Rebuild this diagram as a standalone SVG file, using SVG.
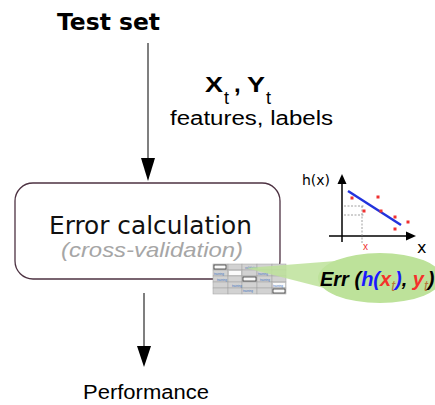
<svg xmlns="http://www.w3.org/2000/svg" width="435" height="405" viewBox="0 0 435 405">
  <defs>
    <style>
      .sans { font-family: "Liberation Sans", Arial, sans-serif; }
      .ubu { font-family: "DejaVu Sans", "Liberation Sans", sans-serif; }
      .flow { stroke: #555; stroke-width: 1.5; fill: none; }
      .head { fill: #000; }
      .axis { stroke: #000; stroke-width: 1.5; fill: none; }
      .dash { stroke: #888; stroke-width: 0.8; stroke-dasharray: 2 1.5; fill: none; }
      .pt { fill: #f03030; }
      .cell { fill: #d2d2d2; stroke: #a0a0a0; stroke-width: 0.5; }
      .wcell { fill: #fafafa; stroke: #222; stroke-width: 0.7; }
      .tiny { font-family: "Liberation Sans", Arial, sans-serif; font-size: 3px; fill: #3a6fc0; }
    </style>
  </defs>

  <!-- connectors -->
  <g id="connectors">
    <line class="flow" x1="148" y1="43" x2="148" y2="160"/>
    <polygon class="head" points="141,158 155,158 148,181"/>
    <line class="flow" x1="144" y1="293" x2="144" y2="348"/>
    <polygon class="head" points="137,346 151,346 144,367"/>
  </g>

  <!-- source label -->
  <g id="test-set">
    <text class="ubu" x="57" y="30" font-size="23" font-weight="bold" textLength="103" lengthAdjust="spacingAndGlyphs">Test set</text>
  </g>

  <!-- input annotation -->
  <g id="inputs" class="sans">
    <text x="205" y="92" font-size="22" font-weight="bold" textLength="18" lengthAdjust="spacingAndGlyphs">X</text>
    <text x="224" y="104" font-size="18">t</text>
    <text x="234" y="92" font-size="24" font-weight="bold">,</text>
    <text x="247" y="92" font-size="22" font-weight="bold" textLength="18" lengthAdjust="spacingAndGlyphs">Y</text>
    <text x="266" y="104" font-size="18">t</text>
    <text x="170" y="125" font-size="20" textLength="163" lengthAdjust="spacingAndGlyphs">features, labels</text>
  </g>

  <!-- main process node -->
  <g id="error-calculation">
    <rect x="15" y="183" width="265" height="96" rx="18" ry="18" fill="#fff" stroke="#4d3242" stroke-width="1.3"/>
    <text class="ubu" x="49" y="234" font-size="24" fill="#111" textLength="203" lengthAdjust="spacingAndGlyphs">Error calculation</text>
    <text class="sans" x="61" y="257" font-size="21" font-style="italic" fill="#a6a6a6" textLength="182" lengthAdjust="spacingAndGlyphs">(cross-validation)</text>
  </g>

  <!-- cross-validation table thumbnail -->
  <g id="cv-table">
    <g>
      <rect class="cell" x="213" y="264" width="15" height="6"/>
      <rect class="cell" x="228" y="264" width="14" height="6"/>
      <rect class="cell" x="242" y="264" width="15" height="6"/>
      <rect class="cell" x="257" y="264" width="15" height="6"/>
      <rect class="cell" x="272" y="264" width="14" height="6"/>
      <rect class="cell" x="213" y="270" width="15" height="6"/>
      <rect class="cell" x="228" y="270" width="14" height="6"/>
      <rect class="cell" x="242" y="270" width="15" height="6"/>
      <rect class="cell" x="257" y="270" width="15" height="6"/>
      <rect class="cell" x="272" y="270" width="14" height="6"/>
      <rect class="cell" x="213" y="276" width="15" height="6"/>
      <rect class="cell" x="228" y="276" width="14" height="6"/>
      <rect class="cell" x="242" y="276" width="15" height="6"/>
      <rect class="cell" x="257" y="276" width="15" height="6"/>
      <rect class="cell" x="272" y="276" width="14" height="6"/>
      <rect class="cell" x="213" y="282" width="15" height="6"/>
      <rect class="cell" x="228" y="282" width="14" height="6"/>
      <rect class="cell" x="242" y="282" width="15" height="6"/>
      <rect class="cell" x="257" y="282" width="15" height="6"/>
      <rect class="cell" x="272" y="282" width="14" height="6"/>
      <rect class="cell" x="213" y="288" width="15" height="6"/>
      <rect class="cell" x="228" y="288" width="14" height="6"/>
      <rect class="cell" x="242" y="288" width="15" height="6"/>
      <rect class="cell" x="257" y="288" width="15" height="6"/>
      <rect class="cell" x="272" y="288" width="14" height="6"/>
    </g>
    <rect class="wcell" x="214" y="265" width="12" height="4"/>
    <rect x="229" y="271" width="12" height="4" fill="#fafafa"/>
    <rect class="wcell" x="243" y="277" width="13" height="4"/>
    <rect x="273" y="283" width="12" height="4" fill="#fafafa"/>
    <rect class="wcell" x="273" y="289" width="12" height="4"/>
    <text class="tiny" x="245" y="268.5">validation</text>
    <text class="tiny" x="214" y="274.5">training</text>
    <text class="tiny" x="258" y="274.5">training</text>
    <text class="tiny" x="217" y="280.5">training</text>
    <text class="tiny" x="260" y="280.5">training</text>
    <text class="tiny" x="232" y="286.5">training</text>
    <text class="tiny" x="243" y="291.5">training</text>
    <text class="tiny" x="273" y="286.5">training</text>
  </g>

  <!-- error formula bubble -->
  <g id="error-bubble">
    <path d="M246 268 L336 261 L336 291 Z" fill="#bde29a" fill-opacity="0.85"/>
    <ellipse cx="380" cy="278" rx="62" ry="25" fill="#bde29a"/>
    <text class="sans" y="286" font-size="20" font-weight="bold" font-style="italic">
      <tspan x="320" fill="#000">Err (</tspan><tspan fill="#1a1aff">h(</tspan><tspan fill="#f5302a">x</tspan><tspan font-size="14" dy="5" fill="#b5773a" font-weight="normal">t</tspan><tspan dy="-5" fill="#1a1aff">)</tspan><tspan fill="#000">, </tspan><tspan fill="#f5302a">y</tspan><tspan font-size="14" dy="5" fill="#b5773a" font-weight="normal">t</tspan><tspan dy="-5" fill="#000">)</tspan>
    </text>
  </g>

  <!-- regression inset -->
  <g id="regression-plot">
    <text class="ubu" x="302" y="185" font-size="14">h(x)</text>
    <line class="axis" x1="342" y1="182" x2="342" y2="242"/>
    <polygon points="337.5,184 346.5,184 342,174" fill="#000"/>
    <line class="axis" x1="329" y1="236" x2="408" y2="236"/>
    <polygon points="406,231.5 406,240.5 416,236" fill="#000"/>
    <line class="dash" x1="344" y1="206" x2="364" y2="206"/>
    <line class="dash" x1="344" y1="215" x2="364" y2="215"/>
    <line class="dash" x1="362" y1="206" x2="362" y2="244"/>
    <line x1="348" y1="191" x2="401" y2="225" stroke="#2233dd" stroke-width="2.5"/>
    <rect class="pt" x="350.5" y="196.5" width="3" height="3"/>
    <rect class="pt" x="376.5" y="195.5" width="3" height="3"/>
    <rect class="pt" x="362.5" y="209.5" width="3" height="3"/>
    <rect class="pt" x="379.5" y="209.5" width="3" height="3"/>
    <rect class="pt" x="393.5" y="215.5" width="3" height="3"/>
    <rect class="pt" x="406.5" y="220.5" width="3" height="3"/>
    <rect class="pt" x="393.5" y="227.5" width="3" height="3"/>
    <text class="sans" x="363" y="250" font-size="10" fill="#f03030">x</text>
    <text class="ubu" x="417" y="253" font-size="16">x</text>
  </g>

  <!-- output label -->
  <g id="performance">
    <text class="sans" x="83" y="399" font-size="20" textLength="126" lengthAdjust="spacingAndGlyphs">Performance</text>
  </g>
</svg>
